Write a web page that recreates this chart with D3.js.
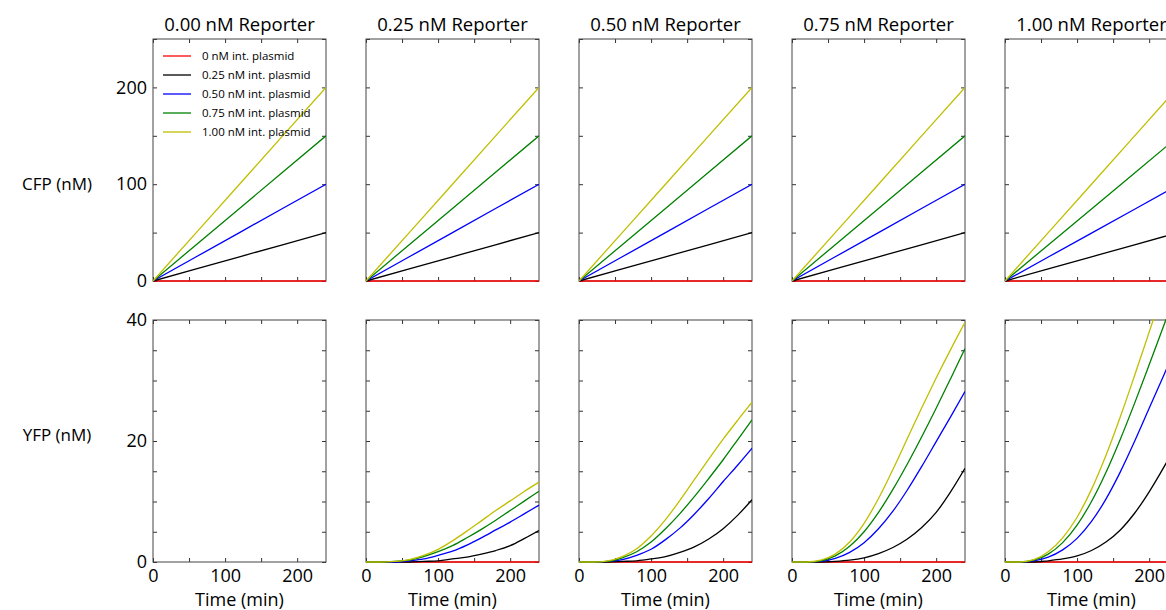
<!DOCTYPE html>
<html lang="en">
<head>
    <meta charset="UTF-8">
    <title>CFP / YFP reporter panels</title>
    <script src="https://d3js.org/d3.v7.min.js"></script>
    <style>
        body { margin: 0; background: #fff; }
        text { font-family: "Open Sans", "Noto Sans", sans-serif; fill: #000; }
    </style>
</head>
<body>

<svg width="1166" height="610"></svg>

<script>

    // ---- data ----
    var reporters = ['0.00', '0.25', '0.50', '0.75', '1.00'];
    var plasmidLabels = ['0 nM int. plasmid', '0.25 nM int. plasmid', '0.50 nM int. plasmid',
        '0.75 nM int. plasmid', '1.00 nM int. plasmid'];
    var colors = ['#ff0000', '#000000', '#0000ff', '#008000', '#bfbf00'];

    // CFP is a straight ramp, read at 0, 120 and 240 min
    var cfpTimes = [0, 120, 240];
    var cfpR000 = [[0, 0, 0], [0, 25, 50], [0, 50, 100], [0, 75, 150], [0, 100, 200]];
    var cfpR025 = [[0, 0, 0], [0, 25, 50], [0, 50, 100], [0, 75, 150], [0, 100, 200]];
    var cfpR050 = [[0, 0, 0], [0, 25, 50], [0, 50, 100], [0, 75, 150], [0, 100, 200]];
    var cfpR075 = [[0, 0, 0], [0, 25, 50], [0, 50, 100], [0, 75, 150], [0, 100, 200]];
    var cfpR100 = [[0, 0, 0], [0, 25, 50], [0, 49.5, 99], [0, 74.5, 149], [0, 100, 200]];

    // YFP, read every 20 min
    var yfpTimes = [0, 20, 40, 60, 80, 100, 120, 140, 160, 180, 200, 220, 240];
    var yfpR000 = null; // no reporter, nothing plotted
    var yfpR025 = [
        [0, 0, 0, 0, 0, 0, 0, 0, 0, 0, 0, 0, 0],
        [0, 0, 0, 0, 0.1, 0.2, 0.5, 0.8, 1.3, 1.9, 2.7, 3.9, 5.2],
        [0, 0, 0, 0.2, 0.5, 1.1, 1.8, 2.8, 4.0, 5.3, 6.6, 8.0, 9.4],
        [0, 0, 0.1, 0.3, 0.9, 1.7, 2.7, 4.0, 5.4, 6.9, 8.5, 10.1, 11.7],
        [0, 0, 0.1, 0.4, 1.1, 2.1, 3.5, 5.1, 6.8, 8.5, 10.1, 11.7, 13.2]
    ];
    var yfpR050 = [
        [0, 0, 0, 0, 0, 0, 0, 0, 0, 0, 0, 0, 0],
        [0, 0, 0, 0.1, 0.2, 0.5, 0.9, 1.6, 2.5, 3.8, 5.5, 7.7, 10.3],
        [0, 0, 0.1, 0.4, 1.1, 2.1, 3.7, 5.6, 7.9, 10.5, 13.3, 16.0, 18.8],
        [0, 0, 0.1, 0.7, 1.7, 3.3, 5.5, 8.0, 10.8, 13.8, 16.9, 20.2, 23.5],
        [0, 0, 0.2, 0.9, 2.2, 4.3, 7.0, 10.2, 13.6, 17.0, 20.3, 23.4, 26.4]
    ];
    var yfpR075 = [
        [0, 0, 0, 0, 0, 0, 0, 0, 0, 0, 0, 0, 0],
        [0, 0, 0, 0.1, 0.3, 0.7, 1.4, 2.4, 3.8, 5.7, 8.2, 11.6, 15.5],
        [0, 0, 0.1, 0.6, 1.6, 3.2, 5.5, 8.4, 11.9, 15.8, 19.9, 24.0, 28.2],
        [0, 0, 0.2, 1.0, 2.6, 5.0, 8.2, 12.0, 16.2, 20.7, 25.4, 30.3, 35.3],
        [0, 0, 0.3, 1.3, 3.3, 6.4, 10.5, 15.3, 20.4, 25.5, 30.4, 35.1, 39.6]
    ];
    var yfpR100 = [
        [0, 0, 0, 0, 0, 0, 0, 0, 0, 0, 0, 0, 0],
        [0, 0, 0, 0.2, 0.5, 1.0, 1.9, 3.3, 5.3, 8.1, 11.6, 15.6, 19.9],
        [0, 0, 0.2, 0.8, 2.0, 3.9, 6.7, 10.4, 14.9, 20.0, 25.4, 30.8, 36.2],
        [0, 0, 0.3, 1.3, 3.2, 6.1, 10.0, 14.8, 20.3, 26.3, 32.6, 39.0, 45.4],
        [0, 0, 0.4, 1.7, 4.0, 7.4, 12.0, 17.6, 24.0, 30.9, 38.0, 45.1, 52.0]
    ];

    var cfpData = [cfpR000, cfpR025, cfpR050, cfpR075, cfpR100];
    var yfpData = [yfpR000, yfpR025, yfpR050, yfpR075, yfpR100];

    // ---- layout ----
    var svg = d3.select('svg');
    var panelW = 173, panelH = 242, firstLeft = 153, step = 213;
    var rows = [
        {top: 39, max: 250, tickStep: 50, labels: [0, 100, 200], name: 'CFP (nM)', times: cfpTimes, data: cfpData},
        {top: 320, max: 40, tickStep: 5, labels: [0, 20, 40], name: 'YFP (nM)', times: yfpTimes, data: yfpData}
    ];

    var x = d3.scaleLinear().domain([0, 240]).range([0, panelW]);

    rows.forEach(function (row, r) {
        var y = d3.scaleLinear().domain([0, row.max]).range([panelH, 0]);
        var yTicks = d3.range(0, row.max + 0.001, row.tickStep);

        // row label
        svg.append('text')
            .attr('x', 57)
            .attr('y', row.top + (r === 0 ? 151 : 121))
            .attr('text-anchor', 'middle')
            .attr('font-size', 17)
            .text(row.name);

        reporters.forEach(function (rep, c) {
            var g = svg.append('g')
                .attr('transform', 'translate(' + (firstLeft + c * step) + ',' + row.top + ')');

            var clipId = 'clip' + r + c;
            g.append('clipPath').attr('id', clipId)
                .append('rect').attr('x', 0).attr('y', -1).attr('width', panelW).attr('height', panelH + 2);

            // inward ticks on all four sides
            var bottom = d3.axisBottom(x).tickValues([0, 50, 100, 150, 200])
                .tickSizeInner(-4).tickSizeOuter(0).tickPadding(7)
                .tickFormat(function (d) { return (r === 1 && d % 100 === 0) ? d : ''; });
            var top = d3.axisTop(x).tickValues([0, 50, 100, 150, 200])
                .tickSizeInner(-4).tickSizeOuter(0).tickFormat('');
            var left = d3.axisLeft(y).tickValues(yTicks)
                .tickSizeInner(-4).tickSizeOuter(0).tickPadding(6)
                .tickFormat(function (d) { return (c === 0 && row.labels.indexOf(d) >= 0) ? d : ''; });
            var right = d3.axisRight(y).tickValues(yTicks)
                .tickSizeInner(-4).tickSizeOuter(0).tickFormat('');

            g.append('g').attr('transform', 'translate(0,' + panelH + ')').call(bottom);
            g.append('g').call(top);
            g.append('g').call(left);
            g.append('g').attr('transform', 'translate(' + panelW + ',0)').call(right);

            g.selectAll('.domain').remove();
            g.selectAll('.tick line').attr('stroke', '#333');
            g.selectAll('.tick text')
                .attr('font-family', '"Open Sans", "Noto Sans", sans-serif')
                .attr('font-size', 18);

            // frame
            g.append('rect')
                .attr('width', panelW).attr('height', panelH)
                .attr('fill', 'none').attr('stroke', '#444').attr('stroke-width', 1);

            // lines, drawn over the frame so the red baseline shows
            var line = d3.line()
                .x(function (d) { return x(d[0]); })
                .y(function (d) { return y(d[1]); })
                .curve(d3.curveMonotoneX);

            var series = row.data[c];
            if (series) {
                g.append('g').attr('clip-path', 'url(#' + clipId + ')')
                    .selectAll('path')
                    .data(series)
                    .enter()
                    .append('path')
                    .attr('fill', 'none')
                    .attr('stroke', function (d, i) { return colors[i]; })
                    .attr('stroke-width', function (d, i) { return i === 0 ? 1.6 : 1.3; })
                    .attr('d', function (vals) {
                        return line(vals.map(function (v, k) { return [row.times[k], v]; }));
                    });
            }

            if (r === 0) {
                g.append('text')
                    .attr('x', panelW / 2).attr('y', -8)
                    .attr('text-anchor', 'middle')
                    .attr('font-size', 18.5)
                    .text(rep + ' nM Reporter');
            } else {
                g.append('text')
                    .attr('x', panelW / 2).attr('y', panelH + 44)
                    .attr('text-anchor', 'middle')
                    .attr('font-size', 18)
                    .text('Time (min)');
            }

            // legend in first panel
            if (r === 0 && c === 0) {
                var leg = g.append('g').attr('transform', 'translate(10,17)')
                    .selectAll('g')
                    .data(plasmidLabels)
                    .enter()
                    .append('g')
                    .attr('transform', function (d, i) { return 'translate(0,' + (i * 19) + ')'; });
                leg.append('line')
                    .attr('x1', 0).attr('x2', 28)
                    .attr('stroke', function (d, i) { return colors[i]; })
                    .attr('stroke-width', 1.3);
                leg.append('text')
                    .attr('x', 39).attr('dy', '0.35em')
                    .attr('font-family', '"Liberation Sans", Arial, sans-serif')
                    .attr('font-size', 11.5)
                    .attr('fill', '#222')
                    .text(function (d) { return d; });
            }
        });
    });

</script>
</body>
</html>
